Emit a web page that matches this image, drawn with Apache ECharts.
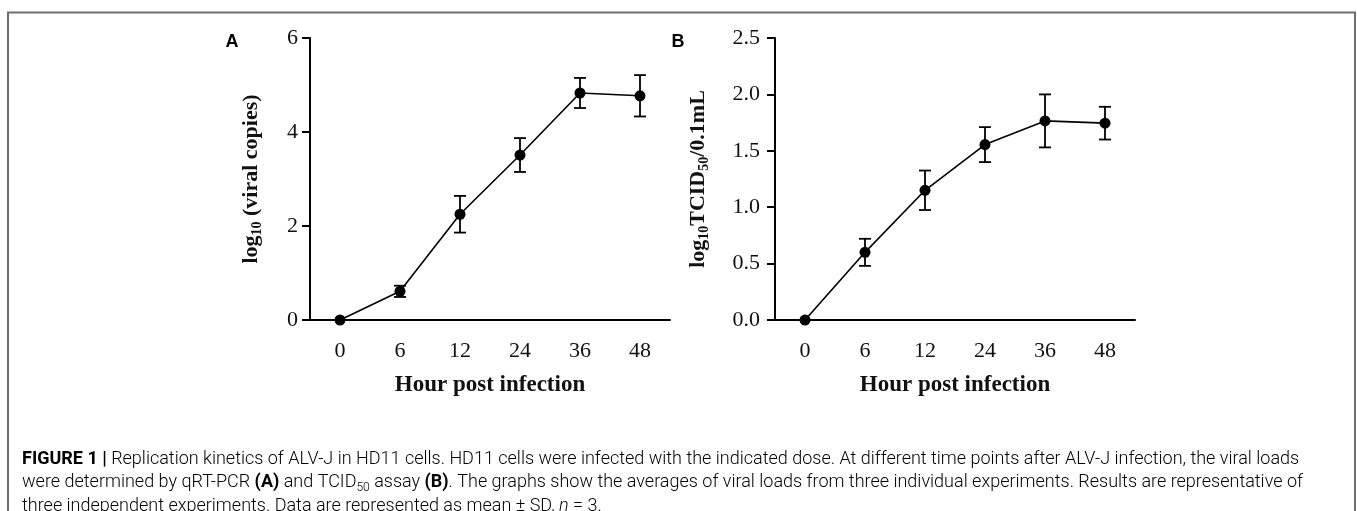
<!DOCTYPE html>
<html>
<head>
<meta charset="utf-8">
<title>Replication kinetics of ALV-J in HD11 cells</title>
<script src="https://cdn.jsdelivr.net/npm/echarts@6/dist/echarts.min.js"></script>
<style>
  html, body { margin: 0; padding: 0; background: #fff; }
  #chart { width: 1357px; height: 511px; }
</style>
</head>
<body>
<div id="chart"></div>
<script>
// hours post infection (category axis)
var hours = ['0', '6', '12', '24', '36', '48'];

// panel A: log10 (viral copies), mean and SD
var copiesMean = [0, 0.61, 2.25, 3.51, 4.83, 4.77];
var copiesSD = [0, 0.12, 0.39, 0.36, 0.32, 0.44];

// panel B: log10 TCID50 / 0.1 mL, mean and SD
var tcidMean = [0, 0.60, 1.15, 1.555, 1.765, 1.745];
var tcidSD = [0, 0.12, 0.175, 0.155, 0.235, 0.145];

// y tick labels
var copiesTicks = [0, 2, 4, 6];
var tcidTicks = [0, 0.5, 1.0, 1.5, 2.0, 2.5];

var SERIF = '"Liberation Serif", "Times New Roman", serif';
var SANS = 'Roboto, "Liberation Sans", Arial, sans-serif';
var INK = '#111';

var chart = echarts.init(document.getElementById('chart'), null, { renderer: 'canvas' });

function barData(mean, sd) {
  return mean.map(function (m, i) { return [i, m - sd[i], m + sd[i]]; });
}

// error bar with caps
function errorBar(params, api) {
  var lo = api.value(1), hi = api.value(2);
  if (hi === lo) return;
  var top = api.coord([api.value(0), hi]);
  var bot = api.coord([api.value(0), lo]);
  var w = 6;
  var st = { stroke: '#000', lineWidth: 1.8 };
  return {
    type: 'group',
    children: [
      { type: 'line', shape: { x1: top[0], y1: top[1], x2: bot[0], y2: bot[1] }, style: st },
      { type: 'line', shape: { x1: top[0] - w, y1: top[1], x2: top[0] + w, y2: top[1] }, style: st },
      { type: 'line', shape: { x1: bot[0] - w, y1: bot[1], x2: bot[0] + w, y2: bot[1] }, style: st }
    ]
  };
}

var subRich = {
  b: { fontFamily: SERIF, fontWeight: 'bold', fontSize: 22, color: INK, lineHeight: 26 },
  s: { fontFamily: SERIF, fontWeight: 'bold', fontSize: 14, color: INK, lineHeight: 12, verticalAlign: 'bottom' }
};

function xAxis(gi) {
  return {
    type: 'category',
    gridIndex: gi,
    data: hours,
    boundaryGap: true,
    axisLine: { lineStyle: { color: '#000', width: 2 } },
    axisTick: { alignWithLabel: true, length: 8, lineStyle: { color: '#000', width: 2 } },
    axisLabel: { margin: 20, fontFamily: SERIF, fontSize: 22, color: INK },
    name: 'Hour post infection',
    nameLocation: 'middle',
    nameGap: 54,
    nameTextStyle: { fontFamily: SERIF, fontWeight: 'bold', fontSize: 23, color: INK }
  };
}

function yAxis(gi, ticks, name, gap, margin, digits) {
  return {
    type: 'value',
    gridIndex: gi,
    min: ticks[0],
    max: ticks[ticks.length - 1],
    interval: ticks[1] - ticks[0],
    splitLine: { show: false },
    axisLine: { show: true, lineStyle: { color: '#000', width: 2 } },
    axisTick: { show: true, length: 8, lineStyle: { color: '#000', width: 2 } },
    axisLabel: {
      margin: margin, fontFamily: SERIF, fontSize: 22, color: INK,
      formatter: function (v) { return v.toFixed(digits); }
    },
    name: name,
    nameLocation: 'middle',
    nameRotate: 90,
    nameGap: gap,
    nameTextStyle: { fontFamily: SERIF, fontWeight: 'bold', fontSize: 22, color: INK, rich: subRich }
  };
}

function lineSeries(xi, mean) {
  return {
    type: 'line',
    xAxisIndex: xi, yAxisIndex: xi,
    data: mean,
    symbol: 'circle',
    symbolSize: 11,
    itemStyle: { color: '#000' },
    lineStyle: { color: '#000', width: 1.6 },
    z: 3
  };
}

function barSeries(xi, mean, sd) {
  return {
    type: 'custom',
    xAxisIndex: xi, yAxisIndex: xi,
    data: barData(mean, sd),
    renderItem: errorBar,
    encode: { x: 0, y: [1, 2] },
    z: 2
  };
}

// caption text styles
var FS = 18;
var capRich = {
  n: { fontFamily: SANS, fontWeight: 300, fontSize: FS, color: '#333', lineHeight: 22 },
  b: { fontFamily: SANS, fontWeight: 'bold', fontSize: FS, color: '#222', lineHeight: 22 },
  i: { fontFamily: SANS, fontWeight: 300, fontStyle: 'italic', fontSize: FS, color: '#333', lineHeight: 22 },
  s: { fontFamily: SANS, fontWeight: 300, fontSize: 12, color: '#333', lineHeight: 13, verticalAlign: 'bottom' }
};

var captionLines = [
  '{b|FIGURE 1 |}{n| Replication kinetics of ALV-J in HD11 cells. HD11 cells were infected with the indicated dose. At different time points after ALV-J infection, the viral loads}',
  '{n|were determined by qRT-PCR }{b|(A)}{n| and TCID}{s|50}{n| assay }{b|(B)}{n|. The graphs show the averages of viral loads from three individual experiments. Results are representative of}',
  '{n|three independent experiments. Data are represented as mean ± SD, }{i|n}{n| = 3.}'
];

var graphics = [
  {
    type: 'polyline',
    shape: { points: [[8, 511], [8, 12.5], [1355, 12.5], [1355, 511]] },
    style: { stroke: '#6f6f6f', lineWidth: 2, fill: null }
  },
  { type: 'text', style: { text: 'A', x: 232, y: 42, align: 'center', verticalAlign: 'middle', fontFamily: '"Liberation Sans", Arial, sans-serif', fontWeight: 'bold', fontSize: 18, fill: '#000' } },
  { type: 'text', style: { text: 'B', x: 678, y: 42, align: 'center', verticalAlign: 'middle', fontFamily: '"Liberation Sans", Arial, sans-serif', fontWeight: 'bold', fontSize: 18, fill: '#000' } }
];
captionLines.forEach(function (t, k) {
  graphics.push({
    type: 'text',
    style: { text: t, x: 22, y: 459 + k * 23.5, verticalAlign: 'middle', rich: capRich }
  });
});

var option = {
  animation: false,
  backgroundColor: '#fff',
  grid: [
    { left: 310, top: 38, width: 360, height: 282 },
    { left: 775, top: 38, width: 360, height: 282 }
  ],
  xAxis: [xAxis(0), xAxis(1)],
  yAxis: [
    yAxis(0, copiesTicks, '{b|log}{s|10}{b| (viral copies)}', 46, 12, 0),
    yAxis(1, tcidTicks, '{b|log}{s|10}{b|TCID}{s|50}{b|/0.1mL}', 64, 15, 1)
  ],
  series: [
    barSeries(0, copiesMean, copiesSD),
    lineSeries(0, copiesMean),
    barSeries(1, tcidMean, tcidSD),
    lineSeries(1, tcidMean)
  ],
  graphic: graphics
};

chart.setOption(option);
</script>
</body>
</html>
